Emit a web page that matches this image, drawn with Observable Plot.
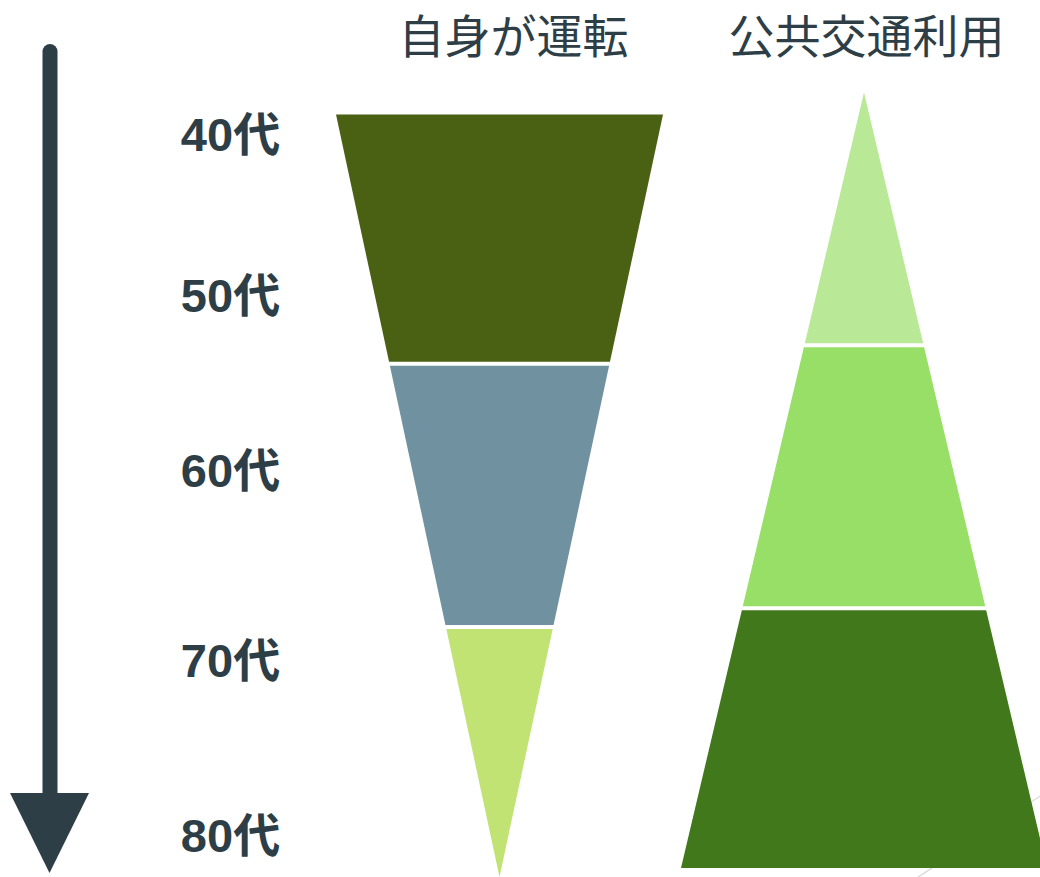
<!DOCTYPE html>
<html>
<head>
<meta charset="utf-8">
<script src="https://cdn.jsdelivr.net/npm/d3@7"></script>
<script src="https://cdn.jsdelivr.net/npm/@observablehq/plot@0.6"></script>
<style>
  html, body { margin: 0; padding: 0; background: #ffffff; }
  #chart svg { display: block; }
</style>
</head>
<body>
<div id="chart"></div>
<script>
// ---- data ----
const groups = ["自身が運転", "公共交通利用"];
const ages = ["40代", "50代", "60代", "70代", "80代"];
const segments = ["上段", "中段", "下段"];
const driveShares = [32.7, 34.5, 32.8];     // 自身が運転 (top → bottom)
const transitShares = [32.6, 33.9, 33.5];   // 公共交通利用 (top → bottom)

// ---- styles ----
const driveColors = ["#4a6114", "#6f91a0", "#c0e373"];
const transitColors = ["#b9e897", "#97df66", "#41781b"];
const ink = "#2d3e46";

// ---- layout (pixel space) ----
const W = 1040, H = 877;
const GAP = 2; // half gap between segments

function funnel(shares, colors, cx, top, bottom, wTop, wBottom, name) {
  const total = d3.sum(shares);
  const h = bottom - top;
  const hw = f => (wTop + (wBottom - wTop) * f) / 2;
  const pts = [];
  let acc = 0;
  shares.forEach((s, i) => {
    const f0 = acc / total, f1 = (acc + s) / total;
    acc += s;
    const y0 = top + f0 * h + (i > 0 ? GAP : 0);
    const y1 = top + f1 * h - (i < shares.length - 1 ? GAP : 0);
    const g0 = (y0 - top) / h, g1 = (y1 - top) / h;
    pts.push({key: name + i, y: y0, x1: cx - hw(g0), x2: cx + hw(g0), fill: colors[i]});
    pts.push({key: name + i, y: y1, x1: cx - hw(g1), x2: cx + hw(g1), fill: colors[i]});
  });
  return pts;
}

const driveData = funnel(driveShares, driveColors, 499.5, 114.5, 877, 327, 0, "d");
const transitData = funnel(transitShares, transitColors, 864, 92.5, 868, 0, 366, "t");

const ageY = [135, 296, 471, 661, 836];
const ageLabels = ages.map((a, i) => ({label: a, x: 230, y: ageY[i]}));
const titles = groups.map((g, i) => ({label: g, x: [513, 866][i], y: 37.5}));

const arrowHead = [
  {y: 793, x1: 10, x2: 89},
  {y: 873, x1: 49.5, x2: 49.5}
];

const chart = Plot.plot({
  width: W,
  height: H,
  margin: 0,
  x: {domain: [0, W], range: [0, W], axis: null},
  y: {domain: [0, H], range: [0, H], axis: null},
  color: {type: "identity"},
  style: {background: "#ffffff"},
  marks: [
    Plot.line([{x: 905, y: 885}, {x: 1045, y: 792}], {x: "x", y: "y", stroke: "#d6d6d6", strokeWidth: 1.2}),
    Plot.areaX(driveData, {y: "y", x1: "x1", x2: "x2", z: "key", fill: "fill"}),
    Plot.areaX(transitData, {y: "y", x1: "x1", x2: "x2", z: "key", fill: "fill"}),
    Plot.ruleX([49.5], {y1: 51.5, y2: 800, stroke: ink, strokeWidth: 15, strokeLinecap: "round"}),
    Plot.areaX(arrowHead, {y: "y", x1: "x1", x2: "x2", fill: ink}),
    Plot.text(ageLabels, {x: "x", y: "y", text: "label", fill: ink, fontSize: 47, fontWeight: "bold",
      fontFamily: "'Liberation Sans', Arial, 'Noto Sans CJK JP', sans-serif", textAnchor: "middle"}),
    Plot.text(titles, {x: "x", y: "y", text: "label", fill: ink, fontSize: 46, fontWeight: "normal",
      fontFamily: "'Noto Sans CJK JP', sans-serif", textAnchor: "middle"})
  ]
});

document.getElementById("chart").appendChild(chart);
</script>
</body>
</html>
